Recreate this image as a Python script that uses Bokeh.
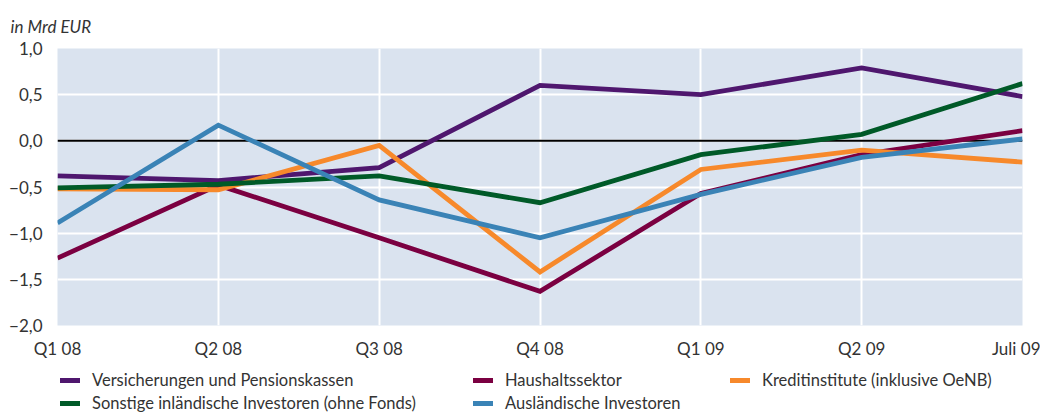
from bokeh.plotting import figure
from bokeh.models import Range1d, FixedTicker, Legend, LegendItem, Title
from bokeh.core.properties import value
from bokeh.embed import file_html
from bokeh.resources import INLINE

quarters = ["Q1 08", "Q2 08", "Q3 08", "Q4 08", "Q1 09", "Q2 09", "Juli 09"]
y_ticks = [-2.0, -1.5, -1.0, -0.5, 0.0, 0.5, 1.0]
y_tick_labels = ["\u22122,0", "\u22121,5", "\u22121,0", "\u22120,5", "0,0", "0,5", "1,0"]

versicherungen = [-0.38, -0.43, -0.29, 0.60, 0.50, 0.79, 0.48]
haushalt = [-1.27, -0.48, -1.05, -1.63, -0.57, -0.15, 0.11]
kredit = [-0.52, -0.53, -0.05, -1.42, -0.31, -0.10, -0.23]
sonstige = [-0.51, -0.47, -0.38, -0.67, -0.15, 0.07, 0.62]
auslaendisch = [-0.89, 0.17, -0.64, -1.05, -0.58, -0.18, 0.02]

series = [
    ("Versicherungen und Pensionskassen", versicherungen, "#4f176e"),
    ("Haushaltssektor", haushalt, "#7b0041"),
    ("Kreditinstitute (inklusive OeNB)", kredit, "#f7892b"),
    ("Sonstige inländische Investoren (ohne Fonds)", sonstige, "#005a28"),
    ("Ausländische Investoren", auslaendisch, "#3a83b6"),
]
legend_columns = [[0, 3], [1, 4], [2]]

FONT = "Lato"
TXT = "#333333"
xs = list(range(len(quarters)))

W = 1040
FL, FR, FT, FW, FH, FB = 57, 18, 48, 965, 277, 10
BOTTOM_H = 80

x_start = 0
x_end = len(quarters) - 1
y_min, y_max = y_ticks[0], y_ticks[-1]

# ---------------- main chart ----------------
p = figure(width=W, height=FT + FH + FB, frame_width=FW, frame_height=FH,
           output_backend="svg", toolbar_location=None,
           x_range=Range1d(x_start, x_end), y_range=Range1d(y_min, y_max),
           min_border_left=FL, min_border_right=FR, min_border_top=FT, min_border_bottom=FB)
p.border_fill_color = "white"
p.outline_line_color = None
p.background_fill_color = "#dae3ef"

p.xgrid.ticker = FixedTicker(ticks=xs)
p.ygrid.ticker = FixedTicker(ticks=y_ticks)
for g in (p.xgrid, p.ygrid):
    g.grid_line_color = "white"
    g.grid_line_width = 2

p.xaxis.visible = False
p.yaxis.ticker = FixedTicker(ticks=y_ticks)
p.yaxis.major_label_overrides = {v: l for v, l in zip(y_ticks, y_tick_labels)}
p.yaxis.axis_line_color = None
p.yaxis.major_tick_line_color = None
p.yaxis.minor_tick_line_color = None
p.yaxis.major_label_text_font = FONT
p.yaxis.major_label_text_font_size = "17px"
p.yaxis.major_label_text_color = TXT
p.yaxis.major_label_standoff = 9

# zero line across the data area
p.segment(x0=[x_start], x1=[x_end], y0=[0], y1=[0], line_color="black", line_width=2)

for name, vals, col in series:
    p.line(xs, vals, line_color=col, line_width=4.8, line_join="miter")

p.title = Title(text="in Mrd EUR", text_font=FONT, text_font_style="italic",
                text_font_size="17px", text_color=TXT, offset=10 - FL, standoff=19,
                vertical_align="top")

# ---------------- bottom strip: x labels + legend ----------------
unit = FW / (x_end - x_start)
q = figure(width=W, height=BOTTOM_H, output_backend="svg", toolbar_location=None,
           x_range=Range1d(x_start - FL / unit, x_end + FR / unit),
           y_range=Range1d(BOTTOM_H, 0),
           min_border_left=0, min_border_right=0, min_border_top=0, min_border_bottom=0)
q.axis.visible = False
q.grid.visible = False
q.outline_line_color = None
q.border_fill_color = "white"
q.background_fill_color = "white"

aligns = ["center"] * (len(quarters) - 1) + ["right"]
offs = [0] * (len(quarters) - 1) + [FR]
q.text(x=xs, y=[13] * len(xs), text=quarters, text_align=aligns, x_offset=offs,
       text_baseline="middle", text_font=value(FONT), text_font_size="17px", text_color=TXT)

# legend renderers carry the series but sit on a range outside the strip's view
q.extra_y_ranges = {"hidden": Range1d(100, 200)}
legend_renderers = []
for name, vals, col in series:
    lr = q.line(xs, vals, line_color=col, line_width=5, line_cap="round", y_range_name="hidden")
    legend_renderers.append(lr)

legend_x = [60, 473, 730]
legend_y = [2, 2, 25]
for cols, lx, ly in zip(legend_columns, legend_x, legend_y):
    lg = Legend(items=[LegendItem(label=series[i][0], renderers=[legend_renderers[i]]) for i in cols],
                orientation="vertical", location=(lx, ly),
                label_text_font=FONT, label_text_font_size="16.5px", label_text_color=TXT,
                glyph_width=20, glyph_height=20, label_standoff=12, spacing=3,
                padding=0, margin=0, border_line_color=None, background_fill_alpha=0,
                label_height=20)
    q.add_layout(lg)

open("out.html", "w").write(file_html([p, q], INLINE))
